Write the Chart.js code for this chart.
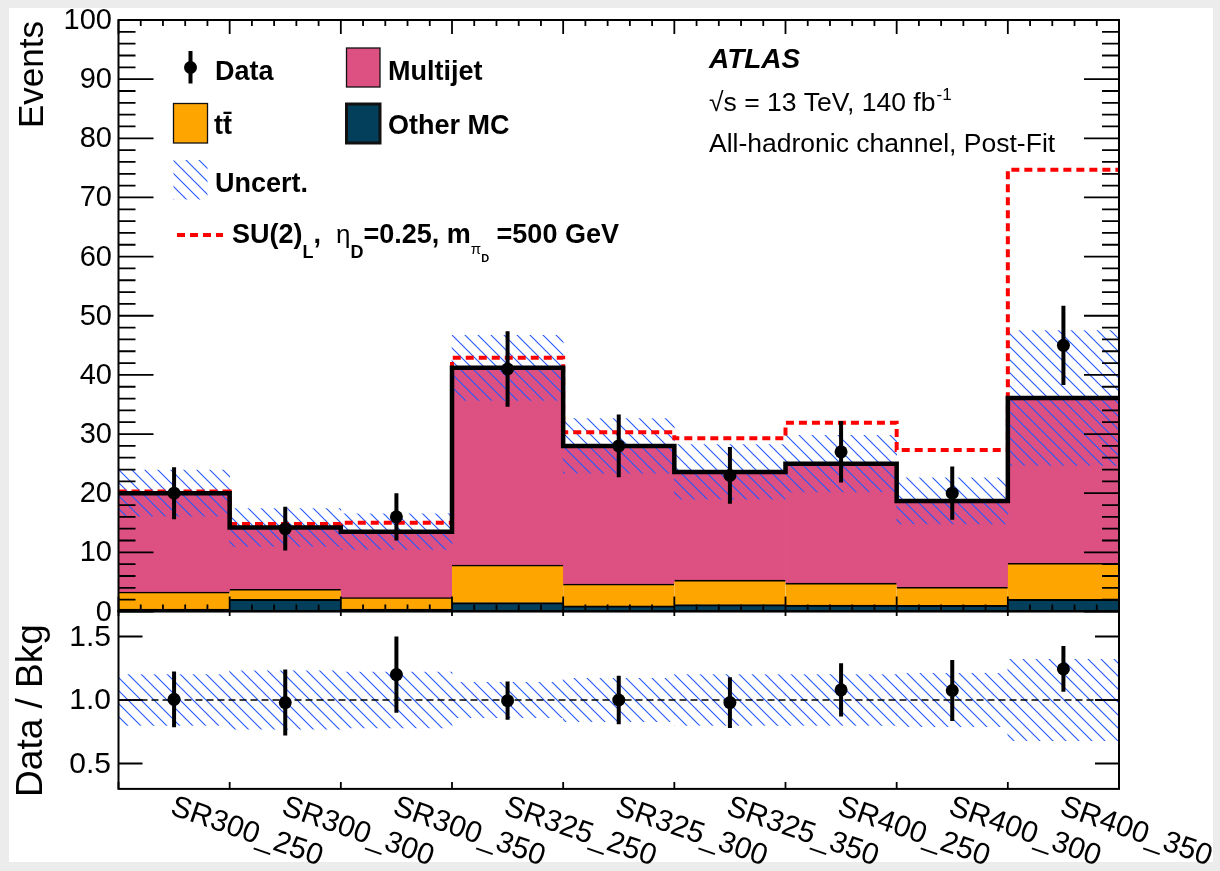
<!DOCTYPE html>
<html>
<head>
<meta charset="utf-8">
<title>Events per signal region</title>
<script src="https://cdn.jsdelivr.net/npm/chart.js@4.4.1/dist/chart.umd.min.js"></script>
<style>
  html, body { margin: 0; padding: 0; background: #ececec; }
  #page { position: relative; width: 1220px; height: 871px; overflow: hidden; }
  #sheet { position: absolute; left: 9px; top: 8px; width: 1204px; height: 854px; background: #fff; }
  canvas { position: absolute; left: 0; top: 0; }
</style>
</head>
<body>
<div id="page">
  <div id="sheet"></div>
  <canvas id="mainChart" width="1220" height="871"></canvas>
  <canvas id="ratioChart" width="1220" height="871"></canvas>
</div>
<script>
// values
const categories = ["SR300_250", "SR300_300", "SR300_350", "SR325_250", "SR325_300", "SR325_350", "SR400_250", "SR400_300", "SR400_350"]
const otherMC = [0.4, 2.05, 0.4, 1.5, 0.95, 1.15, 1.1, 1.05, 2.05]
const ttbar = [2.9, 1.7, 1.95, 6.35, 3.7, 4.15, 3.7, 3.05, 6.1]
const multijet = [16.7, 10.45, 11.15, 33.35, 23.35, 18.3, 20.2, 14.6, 27.95]
const signalStacked = [20.3, 14.8, 15.0, 42.9, 30.3, 29.3, 31.9, 27.3, 74.7]
const dataCounts = [20, 14, 16, 41, 28, 23, 27, 20, 45]
const dataErr = [4.4, 3.7, 4.0, 6.4, 5.3, 4.8, 5.2, 4.5, 6.7]
const bkgUnc = [3.9, 3.2, 3.0, 5.5, 4.6, 4.6, 4.8, 3.9, 11.4]
const ratioVals = [1.005, 0.98, 1.2, 0.995, 1.0, 0.98, 1.08, 1.075, 1.245]
const ratioErr = [0.22, 0.26, 0.30, 0.15, 0.19, 0.20, 0.21, 0.24, 0.18]
const ratioUnc = [0.20, 0.23, 0.22, 0.14, 0.17, 0.20, 0.20, 0.21, 0.32]
const mainTicks = [0, 10, 20, 30, 40, 50, 60, 70, 80, 90, 100]
const ratioTicks = [0.5, 1.0, 1.5]
const ratioTickLabels = ["0.5", "1.0", "1.5"]

const FONT = '"Liberation Sans", Arial, Helvetica, sans-serif'
const PINK = "#dc5181"
const ORANGE = "#ffa500"
const TEAL = "#033e5b"
const HATCH = "#2458ff"

const nBins = categories.length
const centers = categories.map((_, i) => i + 0.5)
const bkgTotal = multijet.map((v, i) => v + ttbar[i] + otherMC[i])

const binPts = (vals) => vals.map((v, i) => ({ x: centers[i], y: v }))
const stepPts = (vals) => vals.map((v, i) => ({ x: i, y: v })).concat([{ x: nBins, y: vals[nBins - 1] }])
const rangePts = (mid, err) => mid.map((v, i) => ({ x: centers[i], y: [v - err[i], v + err[i]] }))

function hatchPattern(ctx) {
  const s = 13
  const c = document.createElement("canvas")
  c.width = s
  c.height = s
  const g = c.getContext("2d")
  g.strokeStyle = HATCH
  g.lineWidth = 1.1
  g.beginPath()
  g.moveTo(0, 0); g.lineTo(s, s)
  g.moveTo(-2, s - 2); g.lineTo(2, s + 2)
  g.moveTo(s - 2, -2); g.lineTo(s + 2, 2)
  g.stroke()
  return ctx.createPattern(c, "repeat")
}

const mainCtx = document.getElementById("mainChart").getContext("2d")
const ratioCtx = document.getElementById("ratioChart").getContext("2d")
const hatchMain = hatchPattern(mainCtx)
const hatchRatio = hatchPattern(ratioCtx)

function xScale() {
  return { type: "linear", min: 0, max: nBins, offset: false, stacked: true, display: false, ticks: { stepSize: 1 } }
}

function frame(ctx, a) {
  ctx.lineWidth = 2
  ctx.strokeStyle = "#000"
  ctx.strokeRect(a.left, a.top, a.right - a.left, a.bottom - a.top)
}

// ----- main panel -----
function drawLegend(ctx) {
  ctx.fillStyle = "#000"
  ctx.strokeStyle = "#000"
  ctx.textAlign = "left"
  ctx.textBaseline = "alphabetic"
  ctx.font = `bold 27px ${FONT}`

  // Data
  ctx.lineWidth = 4
  ctx.beginPath(); ctx.moveTo(190.5, 51); ctx.lineTo(190.5, 83.5); ctx.stroke()
  ctx.beginPath(); ctx.arc(190.5, 67.5, 6.5, 0, Math.PI * 2); ctx.fill()
  ctx.fillText("Data", 215, 80)

  const box = (x, y, w, h, fill, lw) => {
    ctx.fillStyle = fill
    ctx.fillRect(x, y, w, h)
    ctx.lineWidth = lw
    ctx.strokeStyle = "#111"
    ctx.strokeRect(x, y, w, h)
    ctx.fillStyle = "#000"
  }
  box(346.5, 48, 33.5, 39, PINK, 1.3)
  ctx.fillText("Multijet", 388, 80)
  box(173.5, 103.5, 34, 39.5, ORANGE, 1.3)
  ctx.fillText("tt\u0304", 214, 134)
  box(346.5, 104, 33.5, 39, TEAL, 3)
  ctx.fillText("Other MC", 388, 134)

  ctx.fillStyle = hatchMain
  ctx.fillRect(173.5, 160, 34, 39.5)
  ctx.fillStyle = "#000"
  ctx.fillText("Uncert.", 215, 191.5)

  ctx.save()
  ctx.strokeStyle = "#ff0000"
  ctx.lineWidth = 4
  ctx.setLineDash([8, 5])
  ctx.beginPath(); ctx.moveTo(177, 235); ctx.lineTo(223, 235); ctx.stroke()
  ctx.restore()

  const pieces = [
    { t: "SU(2)", f: `bold 27px ${FONT}`, dy: 0 },
    { t: "L", f: `bold 18px ${FONT}`, dy: 15 },
    { t: ",  ", f: `bold 27px ${FONT}`, dy: 0 },
    { t: "\u03b7", f: `26px ${FONT}`, dy: 0 },
    { t: "D", f: `bold 18px ${FONT}`, dy: 15 },
    { t: "=0.25, m", f: `bold 27px ${FONT}`, dy: 0 },
    { t: "\u03c0", f: `15px ${FONT}`, dy: 11 },
    { t: "D", f: `bold 11px ${FONT}`, dy: 19 },
    { t: " =500 GeV", f: `bold 27px ${FONT}`, dy: 0 },
  ]
  let px = 232
  pieces.forEach((p) => {
    ctx.font = p.f
    ctx.fillText(p.t, px, 243 + p.dy)
    px += ctx.measureText(p.t).width
  })
}

function drawLabels(ctx) {
  ctx.fillStyle = "#000"
  ctx.textAlign = "left"
  ctx.textBaseline = "alphabetic"
  ctx.font = `italic bold 28px ${FONT}`
  ctx.fillText("ATLAS", 709, 68)
  ctx.font = `26.5px ${FONT}`
  const lumi = "\u221as = 13 TeV, 140 fb"
  ctx.fillText(lumi, 709, 111)
  const w = ctx.measureText(lumi).width
  ctx.font = `17px ${FONT}`
  ctx.fillText("-1", 709 + w + 1, 100)
  ctx.font = `26.5px ${FONT}`
  ctx.fillText("All-hadronic channel, Post-Fit", 709, 152)
}

const mainDecor = {
  id: "mainDecor",
  afterDatasetsDraw(chart) {
    const { ctx, chartArea: a } = chart
    const x = chart.scales.x
    const y = chart.scales.y
    ctx.save()
    frame(ctx, a)

    ctx.lineWidth = 1.8
    ctx.beginPath()
    for (let v = 0; v <= 100; v += 2) {
      const py = y.getPixelForValue(v)
      const len = v % 10 === 0 ? 35 : 17
      ctx.moveTo(a.left, py); ctx.lineTo(a.left + len, py)
      ctx.moveTo(a.right, py); ctx.lineTo(a.right - len, py)
    }
    for (let k = 0; k <= nBins * 5; k++) {
      const px = x.getPixelForValue(k / 5)
      const major = k % 5 === 0
      ctx.moveTo(px, a.bottom); ctx.lineTo(px, a.bottom - (major ? 15 : 7))
      ctx.moveTo(px, a.top); ctx.lineTo(px, a.top + (major ? 14 : 6))
    }
    ctx.stroke()

    ctx.fillStyle = "#000"
    ctx.font = `29px ${FONT}`
    ctx.textAlign = "right"
    ctx.textBaseline = "middle"
    mainTicks.forEach((v) => {
      ctx.fillText(String(v), 112, y.getPixelForValue(v) + 1)
    })

    ctx.save()
    ctx.translate(43, 21)
    ctx.rotate(-Math.PI / 2)
    ctx.textAlign = "right"
    ctx.textBaseline = "alphabetic"
    ctx.font = `35px ${FONT}`
    ctx.fillText("Events", 0, 0)
    ctx.restore()

    drawLegend(ctx)
    drawLabels(ctx)
    ctx.restore()
  },
}

new Chart(mainCtx, {
  type: "bar",
  data: {
    datasets: [
      {
        type: "line", label: "Data", data: binPts(dataCounts), yAxisID: "yf", order: 0,
        showLine: false, pointRadius: 6.5, pointBackgroundColor: "#000", pointBorderWidth: 0,
      },
      {
        label: "Data error", data: rangePts(dataCounts, dataErr), yAxisID: "yf", order: 1,
        backgroundColor: "#000", barPercentage: 0.036, categoryPercentage: 1,
      },
      {
        type: "line", label: "Total", data: stepPts(bkgTotal), yAxisID: "yf", order: 2,
        stepped: true, borderColor: "#000", borderWidth: 4.5, pointRadius: 0, fill: false,
      },
      {
        type: "line", label: "Signal", data: stepPts(signalStacked), yAxisID: "yf", order: 3,
        stepped: true, borderColor: "#ff0000", borderWidth: 4, borderDash: [8, 5], pointRadius: 0, fill: false,
      },
      {
        label: "Uncert.", data: rangePts(bkgTotal, bkgUnc), yAxisID: "yf", order: 4,
        backgroundColor: hatchMain, borderWidth: 0, barPercentage: 1, categoryPercentage: 1,
      },
      {
        label: "Other MC", data: binPts(otherMC), yAxisID: "y", order: 5,
        backgroundColor: TEAL, borderColor: "#000", borderWidth: { top: 2, right: 0, bottom: 0, left: 0 },
        barPercentage: 1, categoryPercentage: 1,
      },
      {
        label: "ttbar", data: binPts(ttbar), yAxisID: "y", order: 5,
        backgroundColor: ORANGE, borderColor: "#000", borderWidth: { top: 1.6, right: 0, bottom: 0, left: 0 },
        barPercentage: 1, categoryPercentage: 1,
      },
      {
        label: "Multijet", data: binPts(multijet), yAxisID: "y", order: 5,
        backgroundColor: PINK, borderWidth: 0, barPercentage: 1, categoryPercentage: 1,
      },
    ],
  },
  options: {
    responsive: false,
    animation: false,
    events: [],
    layout: { padding: { left: 118.5, right: 101, top: 20, bottom: 259.5 } },
    plugins: { legend: { display: false }, tooltip: { enabled: false } },
    scales: {
      x: xScale(),
      y: { type: "linear", min: 0, max: 100, stacked: true, display: false },
      yf: { type: "linear", min: 0, max: 100, stacked: false, display: false },
    },
  },
  plugins: [mainDecor],
})

// ----- ratio panel -----
const ratioDecor = {
  id: "ratioDecor",
  afterDatasetsDraw(chart) {
    const { ctx, chartArea: a } = chart
    const x = chart.scales.x
    const y = chart.scales.y
    ctx.save()
    frame(ctx, a)

    ctx.lineWidth = 1.8
    ctx.beginPath()
    ratioTicks.forEach((v) => {
      const py = y.getPixelForValue(v)
      ctx.moveTo(a.left, py); ctx.lineTo(a.left + 24, py)
      ctx.moveTo(a.right, py); ctx.lineTo(a.right - 24, py)
    })
    for (let k = 0; k <= nBins; k++) {
      const px = x.getPixelForValue(k)
      ctx.moveTo(px, a.bottom); ctx.lineTo(px, a.bottom - 7)
      ctx.moveTo(px, a.top); ctx.lineTo(px, a.top + 5)
    }
    ctx.stroke()

    ctx.fillStyle = "#000"
    ctx.font = `30px ${FONT}`
    ctx.textAlign = "right"
    ctx.textBaseline = "middle"
    ratioTicks.forEach((v, i) => {
      ctx.fillText(ratioTickLabels[i], 111, y.getPixelForValue(v) + 1)
    })

    ctx.textAlign = "left"
    ctx.textBaseline = "alphabetic"
    categories.forEach((c, i) => {
      ctx.save()
      ctx.translate(x.getPixelForValue(centers[i]) - 5, 814)
      ctx.rotate(19 * Math.PI / 180)
      ctx.fillText(c, 0, 0)
      ctx.restore()
    })

    ctx.save()
    ctx.translate(41.5, 710.5)
    ctx.rotate(-Math.PI / 2)
    ctx.textAlign = "center"
    ctx.font = `37px ${FONT}`
    ctx.fillText("Data / Bkg", 0, 0)
    ctx.restore()
    ctx.restore()
  },
}

new Chart(ratioCtx, {
  type: "bar",
  data: {
    datasets: [
      {
        type: "line", label: "Data / Bkg", data: binPts(ratioVals), order: 0,
        showLine: false, pointRadius: 6.5, pointBackgroundColor: "#000", pointBorderWidth: 0,
      },
      {
        label: "Ratio error", data: rangePts(ratioVals, ratioErr), order: 1,
        backgroundColor: "#000", barPercentage: 0.036, categoryPercentage: 1,
      },
      {
        type: "line", label: "Unity", data: [{ x: 0, y: 1 }, { x: nBins, y: 1 }], order: 2,
        borderColor: "#000", borderWidth: 1.5, borderDash: [7, 4], pointRadius: 0, fill: false,
      },
      {
        label: "Uncert.", data: rangePts(ratioVals.map(() => 1), ratioUnc), order: 3,
        backgroundColor: hatchRatio, borderWidth: 0, barPercentage: 1, categoryPercentage: 1,
      },
    ],
  },
  options: {
    responsive: false,
    animation: false,
    events: [],
    layout: { padding: { left: 118.5, right: 101, top: 611.1, bottom: 82.1 } },
    plugins: { legend: { display: false }, tooltip: { enabled: false } },
    scales: {
      x: xScale(),
      y: { type: "linear", min: 0.3, max: 1.7, display: false },
    },
  },
  plugins: [ratioDecor],
})
</script>
</body>
</html>
